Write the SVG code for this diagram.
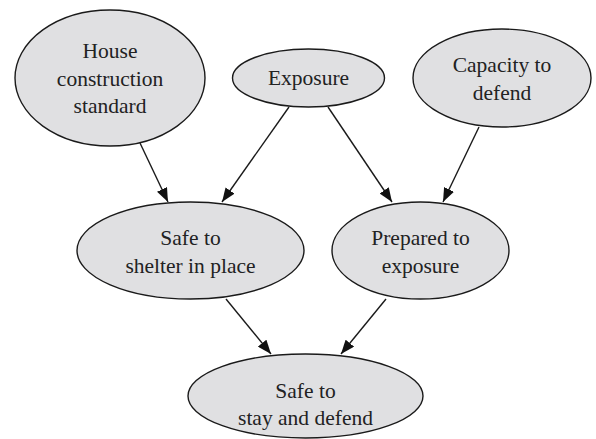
<svg xmlns="http://www.w3.org/2000/svg" width="596" height="439" viewBox="0 0 596 439">
<style>
.n ellipse{fill:#e0e0e2;stroke:#1a1a1a;stroke-width:1.4}
.n text{font-family:'Liberation Serif','Times New Roman',serif;font-size:21.5px;fill:#222;text-anchor:middle}
.e line{stroke:#1a1a1a;stroke-width:1.4;marker-end:url(#ah)}
</style>
<defs>
<marker id="ah" markerUnits="userSpaceOnUse" markerWidth="15" markerHeight="11" refX="14" refY="5.5" orient="auto">
<path d="M0,0 L14,5.5 L0,11 Z" fill="#111"/>
</marker>
</defs>
<rect width="596" height="439" fill="#fff"/>
<g id="edges" class="e">
<line x1="140" y1="143" x2="168" y2="202"/>
<line x1="289" y1="107" x2="222" y2="202"/>
<line x1="328" y1="107" x2="392" y2="202"/>
<line x1="479" y1="127" x2="443" y2="202"/>
<line x1="226" y1="299" x2="271" y2="354"/>
<line x1="386" y1="299" x2="341" y2="354"/>
</g>
<g id="house" class="n">
<ellipse cx="110" cy="78" rx="95" ry="68"/>
<text x="110" y="58">House</text>
<text x="110" y="86">construction</text>
<text x="110" y="113">standard</text>
</g>
<g id="exposure" class="n">
<ellipse cx="308.5" cy="78" rx="76" ry="29"/>
<text x="308.5" y="85">Exposure</text>
</g>
<g id="capacity" class="n">
<ellipse cx="502" cy="78" rx="89" ry="49"/>
<text x="502" y="72">Capacity to</text>
<text x="502" y="100">defend</text>
</g>
<g id="shelter" class="n">
<ellipse cx="190.5" cy="250.5" rx="113.5" ry="48.5"/>
<text x="190.5" y="245">Safe to</text>
<text x="190.5" y="273">shelter in place</text>
</g>
<g id="prepared" class="n">
<ellipse cx="420.5" cy="250.5" rx="88.5" ry="48.5"/>
<text x="420.5" y="245">Prepared to</text>
<text x="420.5" y="273">exposure</text>
</g>
<g id="stay" class="n">
<ellipse cx="305.5" cy="396" rx="117.5" ry="42"/>
<text x="305.5" y="398">Safe to</text>
<text x="305.5" y="425">stay and defend</text>
</g>
</svg>
